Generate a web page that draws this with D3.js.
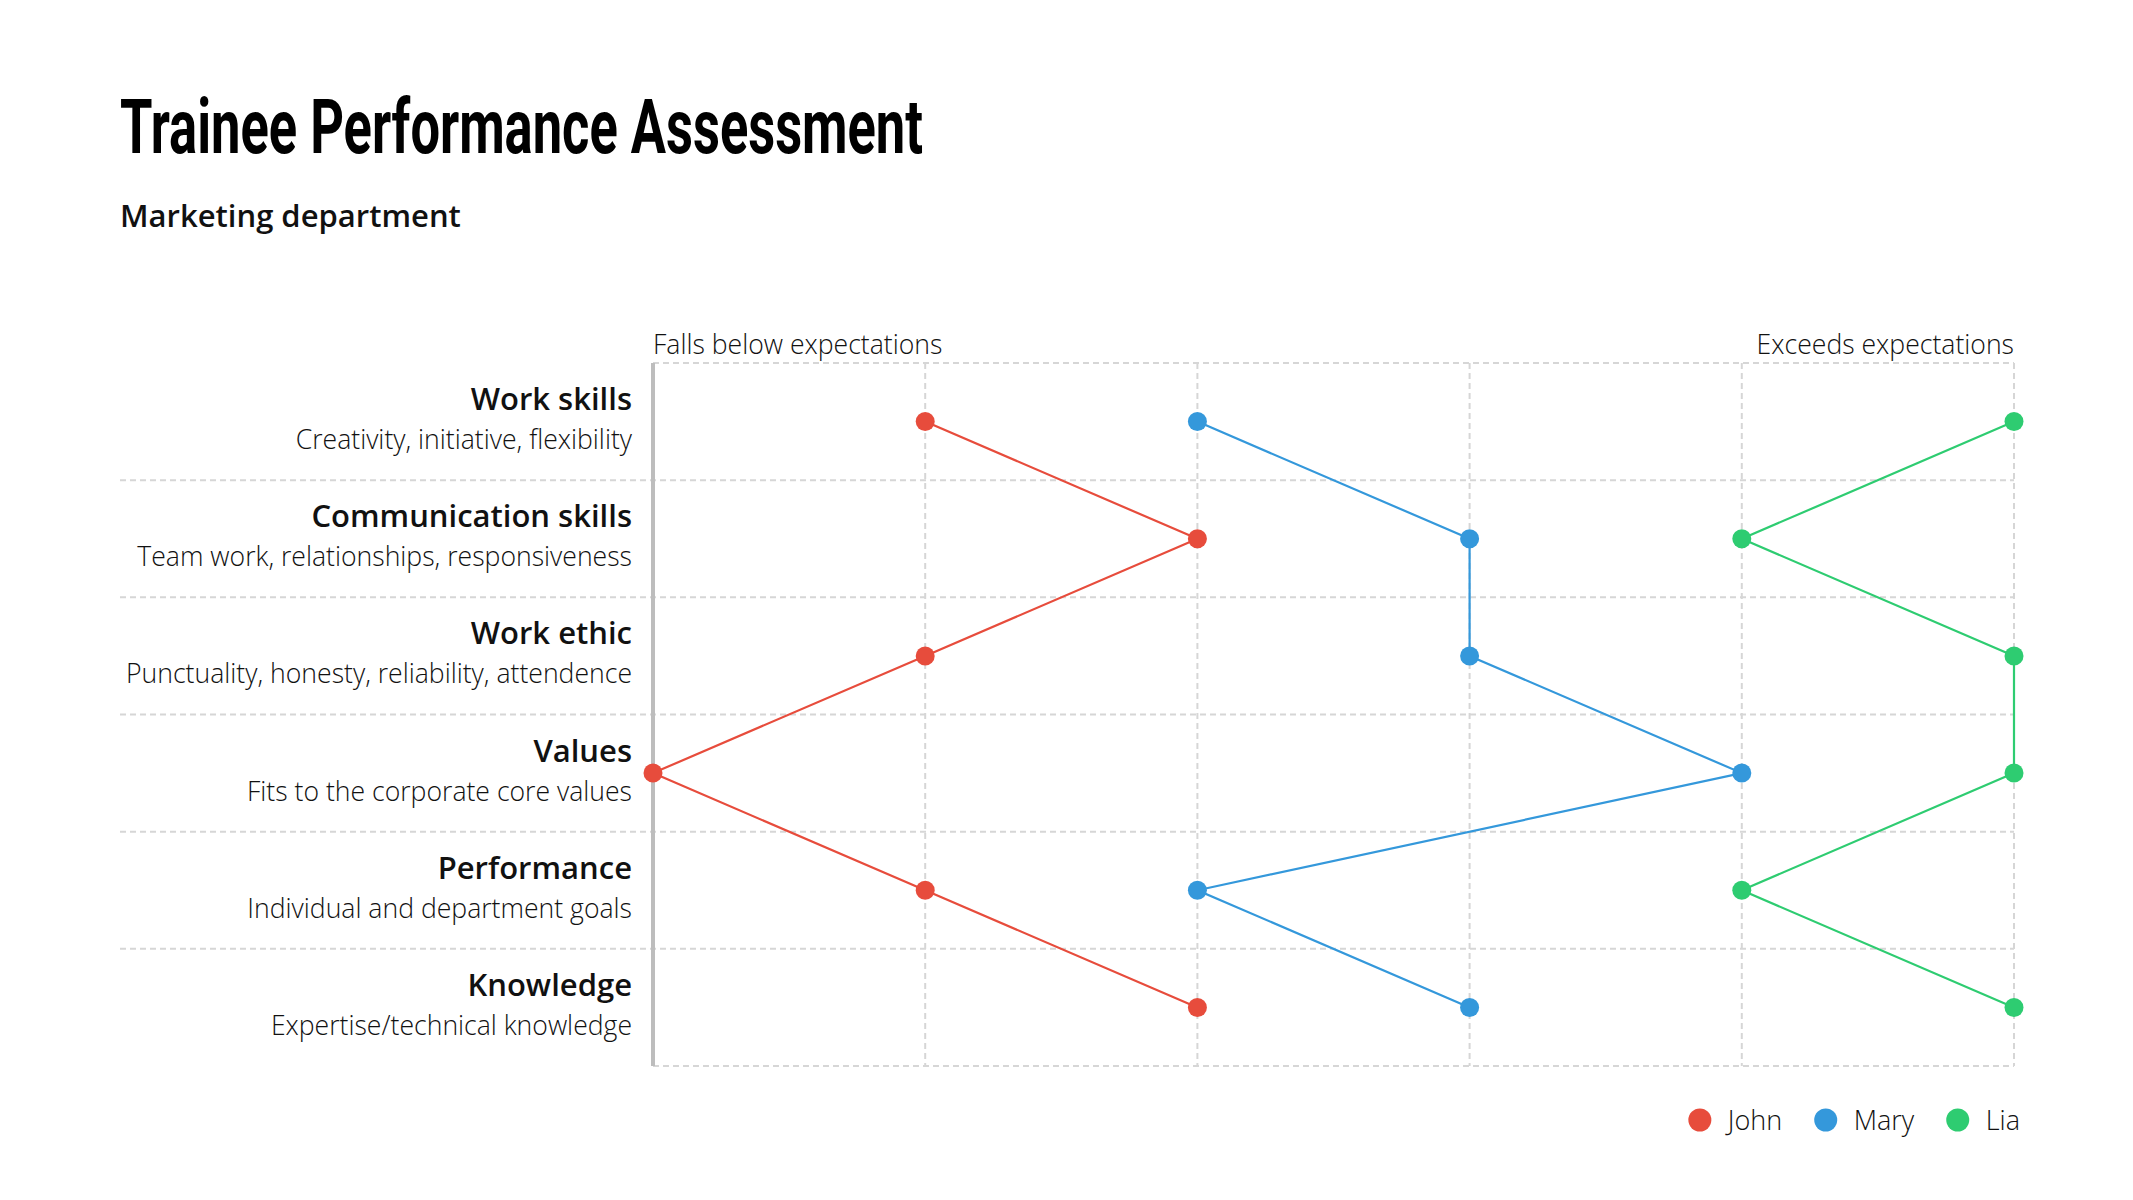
<!DOCTYPE html>
<html lang="en">
<head>
<meta charset="UTF-8">
<title>Trainee Performance Assessment</title>
<style>
  body { margin: 0; background: #fff; }
  svg text { font-family: "Open Sans", "Noto Sans", sans-serif; fill: #111; }
</style>
</head>
<body>
<div id="chart"></div>
<script src="https://d3js.org/d3.v7.min.js"></script>
<script>
const categories = ['Work skills', 'Communication skills', 'Work ethic', 'Values', 'Performance', 'Knowledge']
const descriptions = [
    'Creativity, initiative, flexibility',
    'Team work, relationships, responsiveness',
    'Punctuality, honesty, reliability, attendence',
    'Fits to the corporate core values',
    'Individual and department goals',
    'Expertise/technical knowledge'
]
const seriesNames = ['John', 'Mary', 'Lia']
const seriesColors = ['#e74c3c', '#3498db', '#2ecc71']
const johnValues = [1, 2, 1, 0, 1, 2]
const maryValues = [2, 3, 3, 4, 2, 3]
const liaValues = [5, 4, 5, 5, 4, 5]
const scaleTicks = [0, 1, 2, 3, 4, 5]
const scaleLabels = ['Falls below expectations', 'Exceeds expectations']

const width = 2133
const height = 1200
const plot = { left: 653, right: 2014, top: 363, bottom: 1066 }

const svg = d3.select('#chart')
    .append('svg')
    .attr('width', width)
    .attr('height', height)

// title block (condensed face squeezed to the reference width)
svg.append('text')
    .attr('x', 120)
    .attr('y', 153)
    .attr('textLength', 803)
    .attr('lengthAdjust', 'spacingAndGlyphs')
    .style('font-family', 'Roboto, "Liberation Sans", sans-serif')
    .style('font-weight', 700)
    .style('font-size', '76px')
    .style('fill', '#000')
    .text('Trainee Performance Assessment')

svg.append('text')
    .attr('x', 120)
    .attr('y', 227)
    .style('font-weight', 600)
    .style('font-size', '31px')
    .text('Marketing department')

const xScale = d3.scaleLinear()
    .domain([0, 5])
    .range([plot.left, plot.right])

const yScale = d3.scaleBand()
    .domain(categories)
    .range([plot.top, plot.bottom])

const rowMid = c => yScale(c) + yScale.bandwidth() / 2

const grid = svg.append('g')
    .attr('stroke', '#d6d6d6')
    .attr('stroke-width', 2)
    .attr('stroke-dasharray', '6,4')

// vertical dashed lines
grid.selectAll('.vline')
    .data(scaleTicks)
    .enter()
    .append('line')
    .attr('x1', d => xScale(d))
    .attr('x2', d => xScale(d))
    .attr('y1', plot.top)
    .attr('y2', plot.bottom)

// row separators, inner ones run under the labels too
grid.selectAll('.hline')
    .data(categories.slice(1))
    .enter()
    .append('line')
    .attr('x1', 120)
    .attr('x2', plot.right)
    .attr('y1', d => yScale(d))
    .attr('y2', d => yScale(d))

grid.selectAll('.edge')
    .data([plot.top, plot.bottom])
    .enter()
    .append('line')
    .attr('x1', plot.left)
    .attr('x2', plot.right)
    .attr('y1', d => d)
    .attr('y2', d => d)

svg.append('line')
    .attr('x1', xScale(0))
    .attr('x2', xScale(0))
    .attr('y1', plot.top)
    .attr('y2', plot.bottom)
    .attr('stroke', '#bdbdbd')
    .attr('stroke-width', 4)

// scale end labels
svg.append('text')
    .attr('x', xScale(0))
    .attr('y', plot.top - 9)
    .style('font-weight', 300)
    .style('font-size', '26.6px')
    .text(scaleLabels[0])

svg.append('text')
    .attr('x', xScale(5))
    .attr('y', plot.top - 9)
    .attr('text-anchor', 'end')
    .style('font-weight', 300)
    .style('font-size', '26.6px')
    .text(scaleLabels[1])

// row labels
const labels = svg.append('g')
    .attr('text-anchor', 'end')

labels.selectAll('.cat')
    .data(categories)
    .enter()
    .append('text')
    .attr('x', 632)
    .attr('y', d => yScale(d) + 47)
    .style('font-weight', 600)
    .style('font-size', '31px')
    .text(d => d)

labels.selectAll('.desc')
    .data(categories)
    .enter()
    .append('text')
    .attr('x', 632)
    .attr('y', d => yScale(d) + 86)
    .style('font-weight', 300)
    .style('font-size', '26.6px')
    .text((d, i) => descriptions[i])

// series
const series = [johnValues, maryValues, liaValues].map((values, i) => ({
    name: seriesNames[i],
    color: seriesColors[i],
    points: values.map((v, j) => ({ value: v, category: categories[j] }))
}))

const line = d3.line()
    .x(d => xScale(d.value))
    .y(d => rowMid(d.category))

const seriesG = svg.selectAll('.series')
    .data(series)
    .enter()
    .append('g')

seriesG.append('path')
    .attr('d', d => line(d.points))
    .attr('fill', 'none')
    .attr('stroke', d => d.color)
    .attr('stroke-width', 2.2)

seriesG.selectAll('circle')
    .data(d => d.points.map(p => ({ ...p, color: d.color })))
    .enter()
    .append('circle')
    .attr('cx', d => xScale(d.value))
    .attr('cy', d => rowMid(d.category))
    .attr('r', 9.5)
    .attr('fill', d => d.color)

// legend, laid out right to left so it ends at the plot edge
const legend = svg.append('g')
const items = legend.selectAll('g')
    .data(series)
    .enter()
    .append('g')

items.append('circle')
    .attr('r', 11.5)
    .attr('cy', 0)
    .attr('fill', d => d.color)

items.append('text')
    .attr('x', 28)
    .attr('y', 10)
    .style('font-weight', 300)
    .style('font-size', '27px')
    .text(d => d.name)

let cursor = plot.right + 6
items.nodes().reverse().forEach(node => {
    const w = d3.select(node).select('text').node().getComputedTextLength()
    cursor -= w + 28
    d3.select(node).attr('transform', `translate(${cursor}, 1120)`)
    cursor -= 11.5 + 32
})
</script>
</body>
</html>
